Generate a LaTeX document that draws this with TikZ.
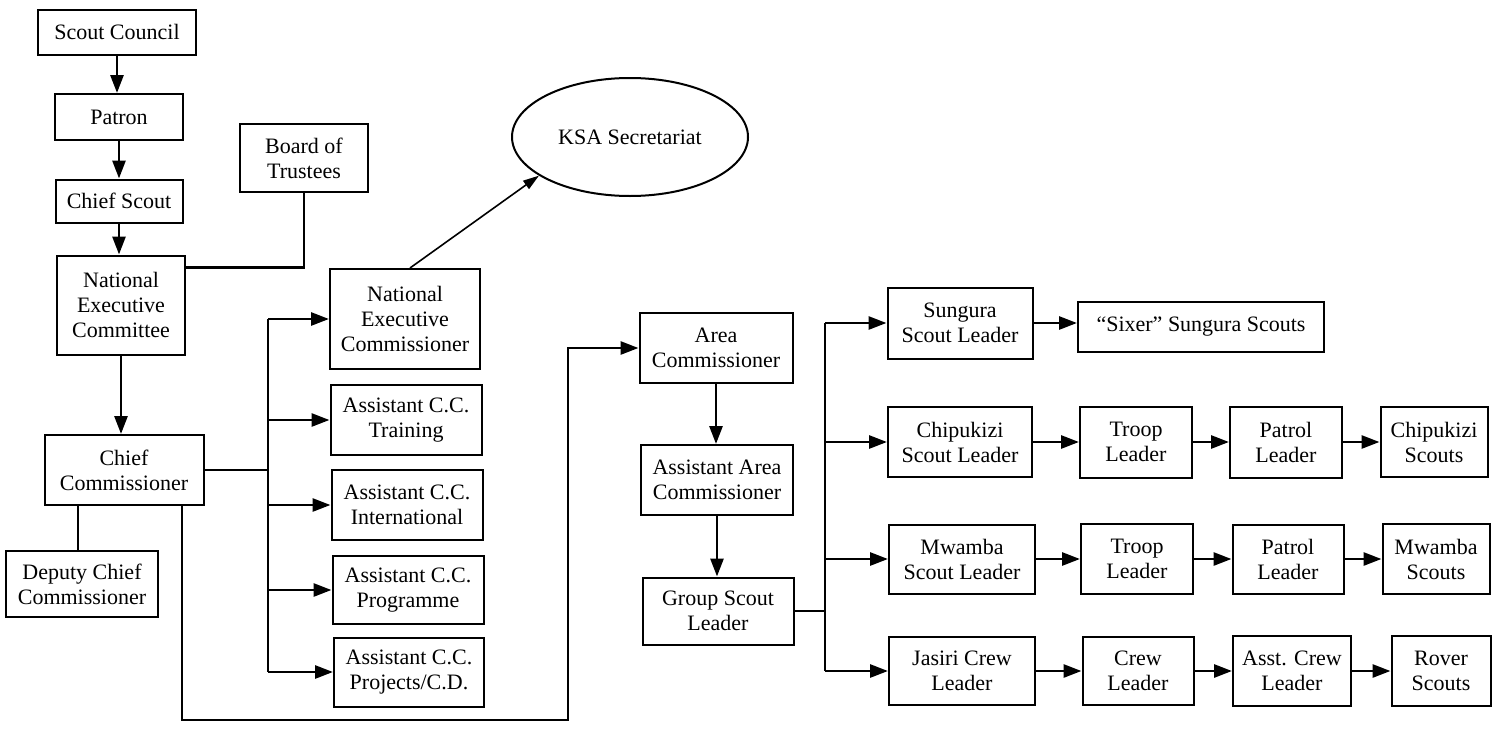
\documentclass[tikz,border=0pt]{standalone}
\usepackage{fontspec}
\setmainfont{Liberation Serif}
\usetikzlibrary{arrows.meta,shapes.geometric}
\begin{document}
\begin{tikzpicture}[x=0.5pt,y=-0.5pt,
  box/.style={draw, line width=1pt, align=center, inner sep=1pt, font=\fontsize{11}{12.5}\selectfont},
  sz/.style 2 args={minimum width=#1*0.5pt, minimum height=#2*0.5pt},
  conn/.style={line width=1.4pt},
  arr/.style={line width=1.4pt, -{Triangle[length=9pt,width=6.5pt]}},
  thinarr/.style={line width=0.8pt, -{Triangle[length=8pt,width=5pt]}}]
\useasboundingbox (0,0) rectangle (1498,728);
% left column
\node[box, sz={158}{45}] (sc) at (117,32) {Scout Council};
\node[box, sz={128}{46}] (pat) at (119,117) {Patron};
\node[box, sz={127}{43}] (cs) at (119,201) {Chief Scout};
\node[box, sz={128}{68}] (bot) at (304,158) {Board of\\Trustees};
\node[box, sz={128}{99}] (nec) at (121,305) {National\\Executive\\Committee};
\node[box, sz={159}{70}] (cc) at (124,470) {Chief\\Commissioner};
\node[box, sz={152}{66}] (dcc) at (82,584) {Deputy Chief\\Commissioner};
% commissioners
\node[box, sz={150}{100}] (necomm) at (405,319) {National\\Executive\\Commissioner};
\node[box, sz={151}{70}] (acct) at (406,420) {Assistant C.C.\\Training};
\node[box, sz={151}{70}] (acci) at (407,505) {Assistant C.C.\\International};
\node[box, sz={151}{68}] (accp) at (408,590) {Assistant C.C.\\Programme};
\node[box, sz={150}{69}] (accpr) at (409,672) {Assistant C.C.\\Projects/C.D.};
\node[draw, line width=1pt, ellipse, minimum width=118pt, minimum height=59pt, font=\fontsize{11}{12.5}\selectfont] (ksa) at (630,137) {KSA Secretariat};
% area
\node[box, sz={153}{70}] (ac) at (716,348) {Area\\Commissioner};
\node[box, sz={152}{70}] (aac) at (717,480) {Assistant Area\\Commissioner};
\node[box, sz={151}{67}] (gsl) at (718,611) {Group Scout\\Leader};
% section leaders
\node[box, sz={145}{71}] (ssl) at (960,323) {Sungura\\Scout Leader};
\node[box, sz={144}{70}] (csl) at (960,442) {Chipukizi\\Scout Leader};
\node[box, sz={146}{69}] (msl) at (962,559) {Mwamba\\Scout Leader};
\node[box, sz={146}{68}] (jcl) at (962,671) {Jasiri Crew\\Leader};
\node[box, sz={246}{50}] (sixer) at (1201,327) {“Sixer” Sungura Scouts};
\node[box, sz={112}{71}] (tl2) at (1136,442) {Troop\\Leader};
\node[box, sz={112}{71}] (pl2) at (1286,442) {Patrol\\Leader};
\node[box, sz={107}{70}] (cks) at (1434,442) {Chipukizi\\Scouts};
\node[box, sz={112}{70}] (tl3) at (1137,559) {Troop\\Leader};
\node[box, sz={111}{69}] (pl3) at (1288,559) {Patrol\\Leader};
\node[box, sz={107}{70}] (ms) at (1436,559) {Mwamba\\Scouts};
\node[box, sz={111}{68}] (cl4) at (1138,671) {Crew\\Leader};
\node[box, sz={118}{70}] (acl4) at (1292,671) {Asst. Crew\\Leader};
\node[box, sz={99}{70}] (rs) at (1441,671) {Rover\\Scouts};
% bus coordinates
\coordinate (lbus) at (268,0);
\coordinate (rbus) at (825,0);
\coordinate (loopc) at (568,720);
% vertical chain
\draw[arr] (sc.south) -- (sc.south |- pat.north);
\draw[arr] (pat.south) -- (cs.north);
\draw[arr] (cs.south) -- (cs.south |- nec.north);
\draw[arr] (nec.south) -- (nec.south |- cc.north);
\draw[conn] ([yshift=-6.5pt]nec.north east) -| (bot.south);
\draw[conn] ([xshift=-2pt]dcc.north |- cc.south) -- ([xshift=-2pt]dcc.north);
% left bus
\draw[conn] (cc.east) -- (cc.east -| lbus);
\draw[conn] (necomm.west -| lbus) -- (accpr.west -| lbus);
\foreach \n in {necomm,acct,acci,accp,accpr}
  \draw[arr] (\n.west -| lbus) -- (\n.west);
\draw[thinarr] ([xshift=2.5pt]necomm.north) -- (ksa.203);
% loop to area
\draw[arr] ([xshift=29pt]cc.south) |- (loopc) |- (ac.west);
\draw[arr] (ac.south) -- (ac.south |- aac.north);
\draw[arr] (aac.south) -- (aac.south |- gsl.north);
% right bus
\draw[conn] (gsl.east) -- (gsl.east -| rbus);
\draw[conn] (ssl.west -| rbus) -- (jcl.west -| rbus);
\foreach \n in {ssl,csl,msl,jcl}
  \draw[arr] (\n.west -| rbus) -- (\n.west);
\draw[arr] (ssl.east) -- (ssl.east -| sixer.west);
\draw[arr] (csl.east) -- (tl2.west);
\draw[arr] (tl2.east) -- (pl2.west);
\draw[arr] (pl2.east) -- (cks.west);
\draw[arr] (msl.east) -- (tl3.west);
\draw[arr] (tl3.east) -- (pl3.west);
\draw[arr] (pl3.east) -- (ms.west);
\draw[arr] (jcl.east) -- (cl4.west);
\draw[arr] (cl4.east) -- (acl4.west);
\draw[arr] (acl4.east) -- (rs.west);
\end{tikzpicture}
\end{document}
